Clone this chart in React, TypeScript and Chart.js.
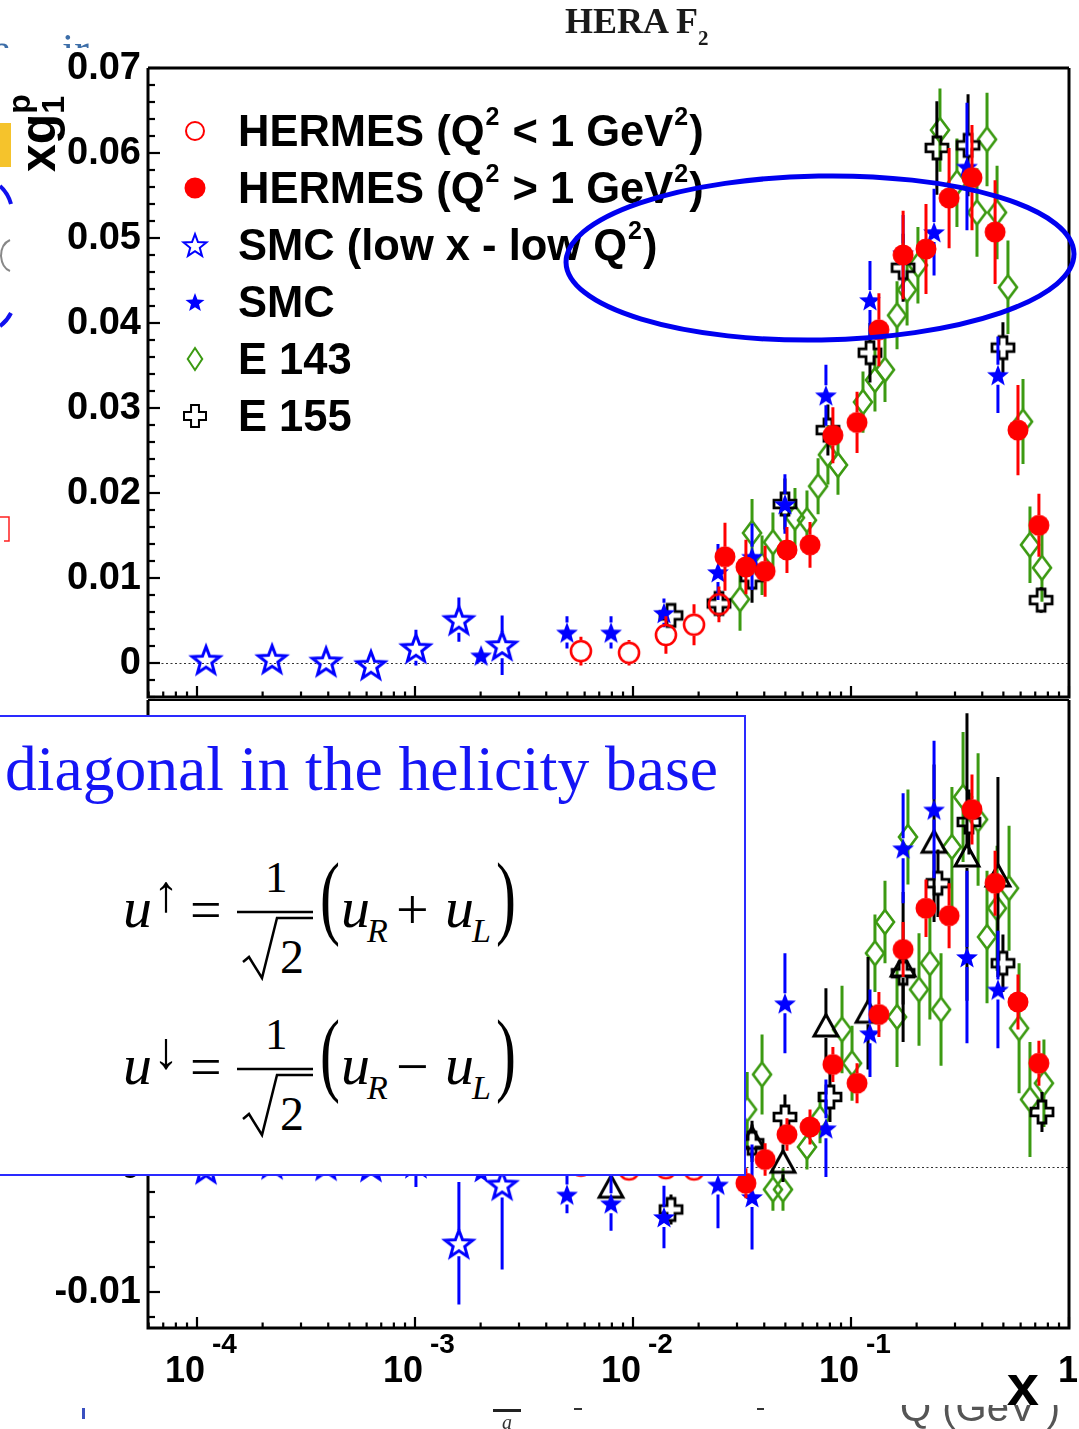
import React, { useEffect, useRef } from 'react';
import { Chart, registerables } from 'chart.js';

Chart.register(...registerables);

// ---------------- axis ranges / tick labels ----------------
const X_MIN = 5.96e-5;
const X_MAX = 1.0;
const topYMin = -0.004;
const topYMax = 0.07;
const botYMin = -0.01288;
const botYMax = 0.03736;
const topYTickValues = [0, 0.01, 0.02, 0.03, 0.04, 0.05, 0.06, 0.07];
const topYTickLabels = ['0', '0.01', '0.02', '0.03', '0.04', '0.05', '0.06', '0.07'];
const botYTickValues = [-0.01, 0, 0.01, 0.02, 0.03];
const botYTickLabels = ['-0.01', '0', '0.01', '0.02', '0.03'];
const xDecadeExponents = [-4, -3, -2, -1];
const xDecadeExpLabels = ['-4', '-3', '-2', '-1'];

const seriesNames = ['HERMES (Q² < 1 GeV²)', 'HERMES (Q² > 1 GeV²)', 'SMC (low x - low Q²)', 'SMC', 'E 143', 'E 155'];

// ---------------- HERMES (Q2 < 1) ----------------
const hermesOpenX = [0.00577, 0.00959, 0.01416, 0.01905, 0.02479];
const hermesOpenTopY = [0.0014, 0.0012, 0.0033, 0.0045, 0.0069];
const hermesOpenTopErr = [0.0017, 0.0015, 0.0022, 0.0024, 0.0021];
const hermesOpenBotY = [0.0001, -0.0002, -0.0001, -0.0002, 0.0002];
const hermesOpenBotErr = [0.0005, 0.0005, 0.0006, 0.0006, 0.0007];

// ---------------- HERMES (Q2 > 1) ----------------
const hermesX = [0.02642, 0.03296, 0.04036, 0.05085, 0.06486, 0.0826, 0.1066, 0.1343, 0.1734, 0.2208, 0.2818, 0.3589, 0.4581, 0.5834, 0.7278];
const hermesTopY = [0.0125, 0.0113, 0.0108, 0.0133, 0.0139, 0.0268, 0.0283, 0.0392, 0.048, 0.0487, 0.0547, 0.0571, 0.0507, 0.0274, 0.0162];
const hermesTopErr = [0.004, 0.0032, 0.003, 0.0027, 0.0027, 0.0033, 0.0036, 0.0043, 0.0052, 0.0053, 0.0059, 0.0062, 0.0061, 0.0053, 0.0037];
const hermesBotY = [0.0005, -0.0013, 0.0006, 0.0026, 0.0032, 0.0082, 0.0067, 0.0122, 0.0174, 0.0207, 0.0201, 0.0286, 0.0227, 0.0132, 0.0083];
const hermesBotErr = [0.0012, 0.0012, 0.0013, 0.0013, 0.0014, 0.0014, 0.0016, 0.0018, 0.0022, 0.0023, 0.0026, 0.0028, 0.0026, 0.0022, 0.0018];

// ---------------- SMC low x ----------------
const smcLowX = [1.1e-4, 2.21e-4, 3.91e-4, 6.28e-4, 1.01e-3, 1.59e-3, 2.51e-3];
const smcLowTopY = [0.0004, 0.0005, 0.0002, -0.0002, 0.0018, 0.0051, 0.0021];
const smcLowTopErr = [0.0006, 0.0007, 0.0006, 0.0008, 0.0021, 0.0026, 0.0035];
const smcLowBotY = [-0.0001, 0.0003, 0.0002, 0.0001, 0.0004, -0.0061, -0.0014];
const smcLowBotErr = [0.0006, 0.0007, 0.0006, 0.0008, 0.002, 0.0049, 0.0068];

// ---------------- SMC ----------------
const smcX = [2.01e-3, 4.98e-3, 7.93e-3, 0.01387, 0.02454, 0.03516, 0.04977, 0.07674, 0.1222, 0.1734, 0.2404, 0.3404, 0.4721];
const smcTopY = [0.0009, 0.0036, 0.0036, 0.0059, 0.0107, 0.0125, 0.0187, 0.0315, 0.0427, 0.0482, 0.0507, 0.0584, 0.0339];
const smcTopErr = [0.0005, 0.0019, 0.0019, 0.0017, 0.0033, 0.0039, 0.0035, 0.0036, 0.0046, 0.0045, 0.0051, 0.0075, 0.0045];
const smcBotY = [-0.0004, -0.0022, -0.0029, -0.004, -0.0014, -0.0024, 0.0131, 0.0031, 0.0107, 0.0255, 0.0286, 0.0168, 0.0142];
const smcBotErr = [0.0008, 0.0015, 0.0022, 0.0025, 0.0035, 0.0042, 0.004, 0.0039, 0.0035, 0.0044, 0.0055, 0.0069, 0.0047];

// ---------------- E143 ----------------
const e143TopX = [0.03097, 0.03516, 0.03908, 0.04385, 0.05534, 0.06281, 0.07063, 0.07837, 0.08716, 0.1135, 0.1288, 0.1432, 0.1626, 0.1808, 0.2028, 0.2559, 0.3062, 0.3784, 0.4207, 0.4677, 0.5248, 0.6152, 0.6622, 0.7516];
const e143TopY = [0.0075, 0.0153, 0.0115, 0.0142, 0.0171, 0.0168, 0.0208, 0.0245, 0.0233, 0.0307, 0.0333, 0.0345, 0.0409, 0.0439, 0.0468, 0.0627, 0.0565, 0.053, 0.0616, 0.053, 0.0442, 0.0284, 0.0139, 0.0112];
const e143TopErr = [0.0037, 0.004, 0.0035, 0.0035, 0.0035, 0.0035, 0.0033, 0.0035, 0.0035, 0.0036, 0.0037, 0.0038, 0.004, 0.0042, 0.0045, 0.0049, 0.0052, 0.0052, 0.0055, 0.0055, 0.0055, 0.005, 0.0045, 0.004];
const e143BotX = [0.0334, 0.03908, 0.04385, 0.04876, 0.06281, 0.07211, 0.09095, 0.1011, 0.1288, 0.1432, 0.1626, 0.1825, 0.2051, 0.2301, 0.2588, 0.2904, 0.3266, 0.3828, 0.4207, 0.4677, 0.5309, 0.5902, 0.6622, 0.7674];
const e143BotY = [0.0046, 0.0074, -0.0018, -0.0018, 0.0016, 0.0039, 0.011, 0.0083, 0.0171, 0.0196, 0.012, 0.0264, 0.0142, 0.0163, 0.0126, 0.0256, 0.0296, 0.0278, 0.0184, 0.0207, 0.0223, 0.0111, 0.0054, 0.0067];
const e143BotErr = [0.003, 0.0032, 0.0017, 0.0017, 0.0018, 0.002, 0.0035, 0.003, 0.0031, 0.0033, 0.004, 0.0038, 0.0045, 0.0045, 0.0045, 0.0048, 0.0052, 0.0053, 0.0053, 0.005, 0.005, 0.0052, 0.0046, 0.0035];

// ---------------- E155 ----------------
const e155TopX = [0.01494, 0.02479, 0.03516, 0.04977, 0.07837, 0.1222, 0.1734, 0.2477, 0.3443, 0.4977, 0.7447];
const e155TopY = [0.0056, 0.007, 0.0101, 0.0187, 0.0274, 0.0365, 0.0465, 0.0606, 0.0609, 0.0371, 0.0074];
const e155TopErr = [0.0012, 0.0016, 0.003, 0.003, 0.003, 0.0035, 0.004, 0.0055, 0.006, 0.003, 0.0015];
const e155BotX = [0.01494, 0.03516, 0.04977, 0.08009, 0.1734, 0.2506, 0.3475, 0.4977, 0.7516];
const e155BotY = [-0.0034, 0.0019, 0.004, 0.0056, 0.0155, 0.0227, 0.0276, 0.0163, 0.0044];
const e155BotErr = [0.0012, 0.0015, 0.0018, 0.002, 0.0025, 0.0027, 0.0026, 0.0023, 0.0016];

// ---------------- extra series (open triangles, lower panel) ----------------
const triBotX = [0.00793, 0.03516, 0.04876, 0.07674, 0.1197, 0.1734, 0.2404, 0.3404, 0.4721];
const triBotY = [-0.0017, 0.0022, 0.0003, 0.0112, 0.0123, 0.016, 0.0259, 0.0248, 0.0232];
const triBotErr = [0.0008, 0.0015, 0.0015, 0.0031, 0.0045, 0.006, 0.0063, 0.0115, 0.008];

// ---------------- styles ----------------
const RED = '#ff0000';
const BLUE = '#0000ff';
const GREEN = '#3c9a12';
const BLACK = '#000000';
const SANS = '"Liberation Sans", Arial, Helvetica, sans-serif';

function makeMarker(kind: string, color: string, size: number, lw: number, ratio = 0.75): HTMLCanvasElement {
  const pad = Math.ceil(size + lw + 2);
  const c = document.createElement('canvas');
  c.width = pad * 2;
  c.height = pad * 2;
  const ctx = c.getContext('2d')!;
  ctx.translate(pad, pad);
  ctx.lineWidth = lw;
  ctx.strokeStyle = color;
  ctx.fillStyle = color;
  ctx.lineJoin = 'miter';
  ctx.beginPath();
  if (kind === 'circleOpen' || kind === 'circleFull') {
    ctx.arc(0, 0, size, 0, Math.PI * 2);
  } else if (kind === 'starOpen' || kind === 'starFull') {
    const r = size * 0.42;
    for (let k = 0; k < 10; k++) {
      const ang = -Math.PI / 2 + (k * Math.PI) / 5;
      const rad = k % 2 === 0 ? size : r;
      const px = rad * Math.cos(ang);
      const py = rad * Math.sin(ang) + size * 0.1;
      if (k === 0) ctx.moveTo(px, py);
      else ctx.lineTo(px, py);
    }
    ctx.closePath();
  } else if (kind === 'diamond') {
    const w = size * ratio;
    ctx.moveTo(0, -size);
    ctx.lineTo(w, 0);
    ctx.lineTo(0, size);
    ctx.lineTo(-w, 0);
    ctx.closePath();
  } else if (kind === 'cross') {
    const s = size;
    const a = size * 0.36;
    const pts = [[-a, -s], [a, -s], [a, -a], [s, -a], [s, a], [a, a], [a, s], [-a, s], [-a, a], [-s, a], [-s, -a], [-a, -a]];
    pts.forEach((p, i) => (i === 0 ? ctx.moveTo(p[0], p[1]) : ctx.lineTo(p[0], p[1])));
    ctx.closePath();
  } else if (kind === 'triangle') {
    ctx.moveTo(0, -size);
    ctx.lineTo(size * 0.95, size * 0.72);
    ctx.lineTo(-size * 0.95, size * 0.72);
    ctx.closePath();
  }
  if (kind === 'circleFull' || kind === 'starFull') ctx.fill();
  else ctx.stroke();
  return c;
}

function pts(xs: number[], ys: number[]) {
  return xs.map((x, i) => ({ x, y: ys[i] }));
}

function makeDataset(label: string, xs: number[], ys: number[], errs: number[], kind: string, color: string, size: number, lw: number, gap: number, order: number) {
  return {
    label,
    data: pts(xs, ys),
    errors: errs,
    barColor: color,
    gap,
    pointStyle: makeMarker(kind, color, size, lw),
    pointRadius: 8,
    pointHoverRadius: 8,
    showLine: false,
    order,
  } as any;
}

const errorBarPlugin = {
  id: 'errorBars',
  beforeDatasetDraw(chart: any, args: any) {
    const ds = chart.data.datasets[args.index];
    if (!ds.errors) return;
    const ys = chart.scales.y;
    const ctx = chart.ctx;
    const a = chart.chartArea;
    ctx.save();
    ctx.beginPath();
    ctx.rect(a.left, a.top, a.right - a.left, a.bottom - a.top);
    ctx.clip();
    ctx.strokeStyle = ds.barColor;
    ctx.lineWidth = 3;
    args.meta.data.forEach((el: any, i: number) => {
      const p = ds.data[i];
      const e = ds.errors[i];
      const x = el.x;
      const y = el.y;
      const yTop = ys.getPixelForValue(p.y + e);
      const yBot = ys.getPixelForValue(p.y - e);
      const g = ds.gap;
      ctx.beginPath();
      if (yTop < y - g) {
        ctx.moveTo(x, yTop);
        ctx.lineTo(x, y - g);
      }
      if (yBot > y + g) {
        ctx.moveTo(x, y + g);
        ctx.lineTo(x, yBot);
      }
      ctx.stroke();
    });
    ctx.restore();
  },
};

function legendMarkers() {
  return [
    makeMarker('circleOpen', RED, 9, 2),
    makeMarker('circleFull', RED, 10.5, 1),
    makeMarker('starOpen', BLUE, 12, 2),
    makeMarker('starFull', BLUE, 10, 1),
    makeMarker('diamond', GREEN, 11, 2, 0.66),
    makeMarker('cross', BLACK, 11, 2),
  ];
}

function decorPlugin(isTop: boolean) {
  const yMin = isTop ? topYMin : botYMin;
  const yMax = isTop ? topYMax : botYMax;
  const tickVals = isTop ? topYTickValues : botYTickValues;
  const tickLabs = isTop ? topYTickLabels : botYTickLabels;
  let lm: HTMLCanvasElement[] | null = null;
  return {
    id: isTop ? 'decorTop' : 'decorBot',
    beforeDatasetsDraw(chart: any) {
      const { ctx, chartArea: a } = chart;
      const y0 = Math.round(chart.scales.y.getPixelForValue(0)) + 0.5;
      ctx.save();
      ctx.strokeStyle = '#333';
      ctx.lineWidth = 1.2;
      ctx.setLineDash([2, 2.5]);
      ctx.beginPath();
      ctx.moveTo(a.left, y0);
      ctx.lineTo(a.right, y0);
      ctx.stroke();
      ctx.restore();
    },
    afterDraw(chart: any) {
      const { ctx, chartArea: a } = chart;
      const xs = chart.scales.x;
      const ys = chart.scales.y;
      ctx.save();
      ctx.strokeStyle = BLACK;
      ctx.fillStyle = BLACK;
      // frame
      ctx.lineWidth = 3;
      ctx.beginPath();
      ctx.moveTo(a.left, a.top);
      ctx.lineTo(a.left, a.bottom);
      ctx.lineTo(a.right, a.bottom);
      ctx.lineTo(a.right, a.top);
      ctx.stroke();
      ctx.lineWidth = isTop ? 3 : 2;
      ctx.beginPath();
      ctx.moveTo(a.left, a.top);
      ctx.lineTo(a.right, a.top);
      ctx.stroke();
      // x ticks
      ctx.lineWidth = 2.2;
      for (let e = -5; e <= 0; e++) {
        for (let m = 1; m <= 9; m++) {
          const v = m * Math.pow(10, e);
          if (v < X_MIN * 0.999 || v > X_MAX * 1.0001) continue;
          const px = xs.getPixelForValue(v);
          const len = m === 1 ? 11 : 5.5;
          ctx.beginPath();
          ctx.moveTo(px, a.bottom);
          ctx.lineTo(px, a.bottom - len);
          ctx.stroke();
        }
      }
      // y ticks
      const step = 0.002;
      for (let k = Math.ceil(yMin / step - 1e-9); k * step <= yMax + 1e-9; k++) {
        const py = ys.getPixelForValue(k * step);
        const len = k % 5 === 0 ? 12 : 7;
        ctx.beginPath();
        ctx.moveTo(a.left, py);
        ctx.lineTo(a.left + len, py);
        ctx.stroke();
      }
      // y labels
      ctx.font = `bold 38px ${SANS}`;
      ctx.textAlign = 'right';
      ctx.textBaseline = 'middle';
      tickVals.forEach((v, i) => {
        ctx.fillText(tickLabs[i], a.left - 7, ys.getPixelForValue(v) + 1);
      });
      ctx.textBaseline = 'alphabetic';
      if (!isTop) {
        xDecadeExponents.forEach((ex, i) => {
          const px = xs.getPixelForValue(Math.pow(10, ex));
          ctx.font = `bold 36px ${SANS}`;
          ctx.textAlign = 'right';
          ctx.fillText('10', px + 8, a.bottom + 54);
          ctx.font = `bold 28px ${SANS}`;
          ctx.textAlign = 'left';
          ctx.fillText(xDecadeExpLabels[i], px + 15, a.bottom + 25);
        });
        ctx.font = `bold 36px ${SANS}`;
        ctx.textAlign = 'center';
        ctx.fillText('1', xs.getPixelForValue(1) - 1, a.bottom + 54);
        ctx.font = `bold 58px ${SANS}`;
        ctx.fillText('x', a.right - 46, a.bottom + 77);
      } else {
        if (!lm) lm = legendMarkers();
        seriesNames.forEach((name, i) => {
          const cy = 131 + i * 57;
          const img = lm![i];
          ctx.drawImage(img, 195 - img.width / 2, cy - img.height / 2);
          let x = 238;
          const base = cy + 15;
          ctx.textAlign = 'left';
          name.split(/(²)/).forEach((seg) => {
            if (!seg) return;
            if (seg === '²') {
              ctx.font = `bold 25px ${SANS}`;
              ctx.fillText('2', x + 1, base - 21);
              x += ctx.measureText('2').width + 2;
            } else {
              ctx.font = `bold 43.5px ${SANS}`;
              ctx.fillText(seg, x, base);
              x += ctx.measureText(seg).width;
            }
          });
        });
      }
      ctx.restore();
    },
  };
}

function makeConfig(isTop: boolean): any {
  const datasets = isTop
    ? [
        makeDataset(seriesNames[0], hermesOpenX, hermesOpenTopY, hermesOpenTopErr, 'circleOpen', RED, 10, 2.6, 11, 1),
        makeDataset(seriesNames[1], hermesX, hermesTopY, hermesTopErr, 'circleFull', RED, 10.5, 1, 10, 0),
        makeDataset(seriesNames[2], smcLowX, smcLowTopY, smcLowTopErr, 'starOpen', BLUE, 14.5, 3, 13, 3),
        makeDataset(seriesNames[3], smcX, smcTopY, smcTopErr, 'starFull', BLUE, 11.5, 1, 10, 2),
        makeDataset(seriesNames[4], e143TopX, e143TopY, e143TopErr, 'diamond', GREEN, 12, 2.6, 12, 6),
        makeDataset(seriesNames[5], e155TopX, e155TopY, e155TopErr, 'cross', BLACK, 11, 2.8, 11, 4),
      ]
    : [
        makeDataset(seriesNames[0], hermesOpenX, hermesOpenBotY, hermesOpenBotErr, 'circleOpen', RED, 10, 2.6, 11, 1),
        makeDataset(seriesNames[1], hermesX, hermesBotY, hermesBotErr, 'circleFull', RED, 10.5, 1, 10, 0),
        makeDataset(seriesNames[2], smcLowX, smcLowBotY, smcLowBotErr, 'starOpen', BLUE, 14.5, 3, 13, 3),
        makeDataset(seriesNames[3], smcX, smcBotY, smcBotErr, 'starFull', BLUE, 11.5, 1, 10, 2),
        makeDataset(seriesNames[4], e143BotX, e143BotY, e143BotErr, 'diamond', GREEN, 12, 2.6, 12, 6),
        makeDataset(seriesNames[5], e155BotX, e155BotY, e155BotErr, 'cross', BLACK, 11, 2.8, 11, 4),
        makeDataset('E 155 (triangles)', triBotX, triBotY, triBotErr, 'triangle', BLACK, 12.5, 3, 11, 5),
      ];
  return {
    type: 'scatter',
    data: { datasets },
    options: {
      responsive: false,
      maintainAspectRatio: false,
      animation: false,
      events: [],
      layout: { autoPadding: false, padding: { top: isTop ? 68 : 20, right: 10, left: 0, bottom: 0 } },
      plugins: { legend: { display: false }, tooltip: { enabled: false } },
      scales: {
        x: {
          type: 'logarithmic',
          min: X_MIN,
          max: X_MAX,
          bounds: 'data',
          ticks: { display: false },
          grid: { display: false },
          border: { display: false },
          afterFit: (s: any) => {
            s.height = isTop ? 3 : 101;
          },
        },
        y: {
          type: 'linear',
          min: isTop ? topYMin : botYMin,
          max: isTop ? topYMax : botYMax,
          ticks: { display: false },
          grid: { display: false },
          border: { display: false },
          afterFit: (s: any) => {
            s.width = 148;
          },
        },
      },
    },
    plugins: [errorBarPlugin, decorPlugin(isTop)],
  };
}

const SERIF = "'Liberation Serif', 'Times New Roman', serif";

function MathLine({ dy, arrow, op }: { dy: number; arrow: string; op: string }) {
  const B = 927 + dy;
  return (
    <g fill="#000" fontFamily={SERIF}>
      <text x={123} y={B} fontSize={58} fontStyle="italic">u</text>
      <text x={153} y={B - 16} fontSize={52}>{arrow}</text>
      <text x={190} y={B + 2} fontSize={56}>=</text>
      <text x={265} y={B - 35} fontSize={45}>1</text>
      <line x1={237} x2={313} y1={B - 15} y2={B - 15} stroke="#000" strokeWidth={2.5} />
      <path d={`M243,${B + 35} L249,${B + 30} L262,${B + 51} L277,${B - 9} L313,${B - 9}`} fill="none" stroke="#000" strokeWidth={2.5} />
      <text x={280} y={B + 46} fontSize={48}>2</text>
      <text transform={`translate(320,${B}) scale(1,1.55)`} fontSize={60}>(</text>
      <text x={341} y={B} fontSize={58} fontStyle="italic">u</text>
      <text x={367} y={B + 15} fontSize={34} fontStyle="italic">R</text>
      <text x={396} y={B + 2} fontSize={58}>{op}</text>
      <text x={445} y={B} fontSize={58} fontStyle="italic">u</text>
      <text x={472} y={B + 15} fontSize={34} fontStyle="italic">L</text>
      <text transform={`translate(496,${B}) scale(1,1.55)`} fontSize={60}>)</text>
    </g>
  );
}

export default function App() {
  const topRef = useRef<HTMLCanvasElement>(null);
  const botRef = useRef<HTMLCanvasElement>(null);

  useEffect(() => {
    const c1 = new Chart(topRef.current as HTMLCanvasElement, makeConfig(true));
    const c2 = new Chart(botRef.current as HTMLCanvasElement, makeConfig(false));
    return () => {
      c1.destroy();
      c2.destroy();
    };
  }, []);

  return (
    <div style={{ position: 'fixed', left: 0, top: 0, width: 1079, height: 1429, background: '#fff', overflow: 'hidden' }}>
      <canvas ref={topRef} width={1079} height={700} style={{ position: 'absolute', left: 0, top: 0, width: 1079, height: 700 }} />
      <canvas ref={botRef} width={1079} height={749} style={{ position: 'absolute', left: 0, top: 680, width: 1079, height: 749 }} />
      <svg width={1079} height={1429} style={{ position: 'absolute', left: 0, top: 0, pointerEvents: 'none' }}>
        <defs>
          <clipPath id="topStrip">
            <rect x={0} y={0} width={1079} height={48} />
          </clipPath>
          <clipPath id="botStrip">
            <rect x={0} y={1405} width={1079} height={30} />
          </clipPath>
        </defs>
        {/* slide fragments peeking around the plot */}
        <g clipPath="url(#topStrip)">
          <text x={-8} y={64} fontFamily={SERIF} fontSize={44} fill="#3d6ea8">a</text>
          <text x={62} y={64} fontFamily={SERIF} fontSize={44} fill="#3d6ea8">ir</text>
        </g>
        <rect x={0} y={123} width={11} height={44} fill="#f5c32c" />
        <path d="M0,186 Q8,193 11,204" fill="none" stroke="#1010ee" strokeWidth={4} />
        <path d="M0,326 Q7,321 11,313" fill="none" stroke="#1010ee" strokeWidth={4} />
        <path d="M10,240 Q1,244 1,256 Q2,268 10,271" fill="none" stroke="#888" strokeWidth={2} />
        <path d="M0,517 L9,517 L9,541 L4,541" fill="none" stroke="#ff2020" strokeWidth={1.5} />
        <g clipPath="url(#botStrip)">
          <rect x={82} y={1408} width={3} height={11} fill="#3a50c0" />
          <rect x={493} y={1409} width={28} height={3} fill="#222" />
          <text x={502} y={1429} fontFamily={SERIF} fontSize={20} fontStyle="italic" fill="#333">a</text>
          <rect x={574} y={1408} width={8} height={2} fill="#333" />
          <rect x={757} y={1408} width={7} height={2} fill="#333" />
          <text x={900} y={1421} fontFamily={SANS} fontSize={40} fill="#555">Q (GeV )</text>
        </g>
        {/* title */}
        <text x={565} y={33} fontFamily={SERIF} fontWeight="bold" fontSize={36} fill="#1a1a1a">
          HERA F<tspan fontSize={21} dy={12}>2</tspan>
        </text>
        {/* y axis title */}
        <text transform="translate(55,172) rotate(-90)" fontFamily={SANS} fontWeight="bold" fontSize={50} fill="#000">
          xg<tspan fontSize={32} dy={9}>1</tspan>
          <tspan fontSize={32} dx={-18} dy={-34}>p</tspan>
        </text>
        {/* highlight ellipse */}
        <ellipse cx={820} cy={258} rx={254} ry={82} fill="none" stroke="#0000f0" strokeWidth={5} transform="rotate(-1 820 258)" />
        {/* overlay box */}
        <rect x={-2} y={716} width={747} height={459} fill="#fff" stroke="#2a2aff" strokeWidth={2} />
        <text x={5} y={790} fontFamily={SERIF} fontSize={63} fill="#1515f5" textLength={713} lengthAdjust="spacingAndGlyphs">
          diagonal in the helicity base
        </text>
        <MathLine dy={0} arrow="↑" op="+" />
        <MathLine dy={157} arrow="↓" op="−" />
      </svg>
    </div>
  );
}
